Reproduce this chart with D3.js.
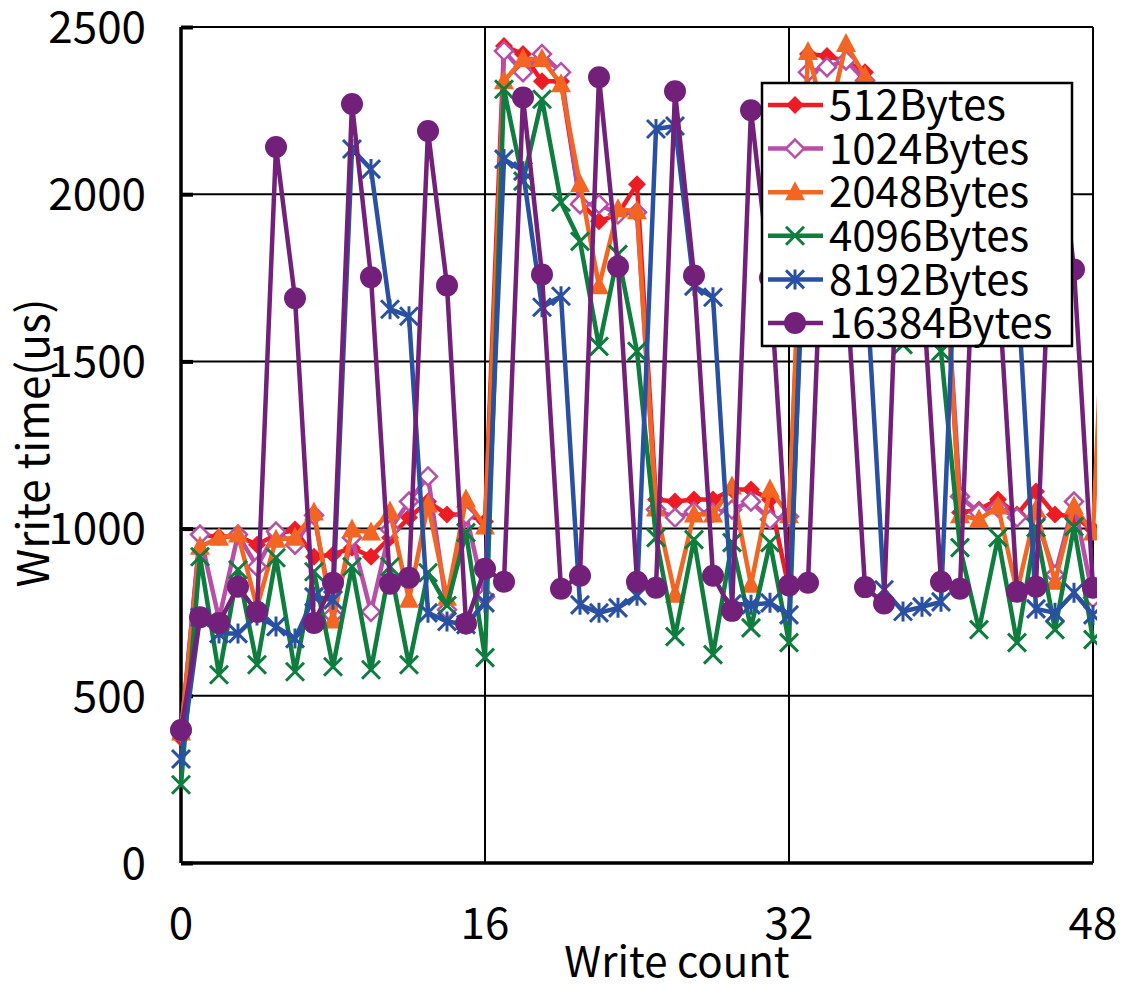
<!doctype html>
<html>
<head>
<meta charset="utf-8">
<script src="https://d3js.org/d3.v7.min.js"></script>
<style>
  body { margin: 0; background: #fff; }
  text { font-family: "Noto Sans CJK JP", "Noto Sans", sans-serif; fill: #000; }
</style>
</head>
<body>
<div id="chart"></div>
<script>
// data (write count 0..48, orange has one point past the edge)
var xTicks = [0, 16, 32, 48];
var yTicks = [0, 500, 1000, 1500, 2000, 2500];
var seriesNames = ["512Bytes", "1024Bytes", "2048Bytes", "4096Bytes", "8192Bytes", "16384Bytes"];

var bytes512 = [374, 982, 975, 978, 952, 982, 997, 916, 922, 943, 916, 973, 1033, 1081, 1042, 1042, 1021,
  2443, 2419, 2338, 2338, 1976, 1919, 1940, 2030, 1087, 1081, 1087, 1087, 1117, 1117, 1087, 820,
  2419, 2413, 2398, 2365, 1980, 1920, 1950, 2000, 1048, 1057, 1087, 1042, 1111, 1042, 1036, 997];
var bytes1024 = [390, 982, 730, 982, 886, 991, 952, 1040, 742, 973, 751, 997, 1081, 1156, 757, 1042, 796,
  2428, 2365, 2419, 2365, 1970, 1970, 1940, 1946, 1057, 1033, 1051, 1048, 1057, 1081, 1027, 1036,
  2365, 2380, 2400, 2340, 1970, 1960, 1950, 1990, 1096, 1048, 1063, 1033, 1033, 862, 1081, 793];
var bytes2048 = [390, 946, 973, 982, 765, 967, 973, 1048, 725, 997, 988, 1051, 787, 1072, 793, 1087, 1006,
  2338, 2404, 2404, 2329, 2030, 1725, 1955, 1949, 1060, 802, 1042, 1042, 1126, 832, 1117, 1040,
  2425, 2200, 2449, 2353, 2030, 1750, 1950, 1990, 1040, 1027, 1066, 811, 1057, 841, 1066, 988, 2250];
var bytes4096 = [234, 916, 563, 877, 593, 913, 572, 871, 587, 886, 578, 886, 593, 868, 770, 988, 614,
  2314, 2039, 2284, 1976, 1859, 1545, 1820, 1530, 973, 677, 967, 623, 958, 703, 958, 659,
  2300, 2040, 2280, 1970, 1860, 1550, 1820, 1530, 943, 698, 973, 659, 1003, 698, 1006, 668];
var bytes8192 = [311, 735, 686, 686, 740, 707, 671, 796, 787, 2135, 2075, 1656, 1635, 748, 722, 713, 778,
  2105, 2069, 1662, 1695, 772, 748, 763, 799, 2195, 2204, 1725, 1692, 775, 772, 778, 742,
  2150, 2100, 1700, 1800, 817, 752, 766, 781, 2150, 2100, 1700, 1750, 760, 748, 808, 742];
var bytes16384 = [398, 735, 718, 826, 751, 2141, 1689, 718, 838, 2270, 1752, 835, 853, 2189, 1727, 716, 880,
  841, 2289, 1760, 820, 859, 2350, 1784, 841, 823, 2308, 1757, 859, 754, 2251, 1750, 830,
  838, 2280, 1750, 825, 776, 2280, 1750, 841, 820, 2280, 1750, 811, 826, 2280, 1775, 823];

var colors = ["#ED1C24", "#B84EA8", "#F26522", "#0E7D3E", "#2A50A3", "#73207B"];
var markers = ["diamond", "odiamond", "triangle", "x", "star", "circle"];
var allSeries = [bytes512, bytes1024, bytes2048, bytes4096, bytes8192, bytes16384];

var W = 1129, H = 985;
var plotL = 181, plotR = 1093, plotT = 27, plotB = 863;

var svg = d3.select("#chart").append("svg")
  .attr("width", W).attr("height", H);

var x = d3.scaleLinear().domain([0, 48]).range([plotL, plotR]);
var y = d3.scaleLinear().domain([0, 2500]).range([plotB, plotT]);

// grid
svg.append("g")
  .selectAll("line").data(yTicks).enter().append("line")
  .attr("x1", plotL).attr("x2", plotR)
  .attr("y1", function (d) { return y(d); }).attr("y2", function (d) { return y(d); })
  .attr("stroke", "#000").attr("stroke-width", 2);
svg.append("g")
  .selectAll("line").data(xTicks).enter().append("line")
  .attr("x1", function (d) { return x(d); }).attr("x2", function (d) { return x(d); })
  .attr("y1", plotT).attr("y2", plotB)
  .attr("stroke", "#000").attr("stroke-width", 2);

// axes
var yAxis = svg.append("g")
  .attr("transform", "translate(" + plotL + ",0)")
  .call(d3.axisRight(y).tickValues(yTicks).tickSize(12).tickFormat(""));
yAxis.select(".domain").remove();
yAxis.selectAll("line").attr("stroke-width", 4);
svg.append("line").attr("x1", plotL).attr("x2", plotL).attr("y1", plotT).attr("y2", plotB)
  .attr("stroke", "#000").attr("stroke-width", 3.5);
svg.append("line").attr("x1", plotL).attr("x2", plotR).attr("y1", plotB).attr("y2", plotB)
  .attr("stroke", "#000").attr("stroke-width", 3.5);

svg.append("g").selectAll("text").data(yTicks).enter().append("text")
  .attr("x", 146).attr("y", function (d) { return y(d); })
  .attr("dy", "0.36em").attr("text-anchor", "end")
  .style("font-size", "44px")
  .text(function (d) { return d; });
svg.append("g").selectAll("text").data(xTicks).enter().append("text")
  .attr("x", function (d) { return x(d); }).attr("y", 939)
  .attr("text-anchor", "middle")
  .style("font-size", "44px")
  .text(function (d) { return d; });

svg.append("text").attr("x", 677).attr("y", 977).attr("text-anchor", "middle")
  .style("font-size", "42px").text("Write count");
svg.append("text").attr("transform", "translate(49,443) rotate(-90)").attr("text-anchor", "middle")
  .style("font-size", "44px").text("Write time(us)");

// marker shapes
function markerPath(type) {
  if (type === "diamond" || type === "odiamond") return "M0,-9L9,0L0,9L-9,0Z";
  if (type === "triangle") return "M0,-11L10,8L-10,8Z";
  if (type === "x") return "M-9,-9L9,9M-9,9L9,-9";
  if (type === "star") return "M-9,-9L9,9M-9,9L9,-9M0,-10L0,10";
  return null;
}
function drawMarker(g, type, color, px, py) {
  if (type === "circle") {
    g.append("circle").attr("cx", px).attr("cy", py).attr("r", 11).attr("fill", color);
    return;
  }
  var p = g.append("path").attr("d", markerPath(type))
    .attr("transform", "translate(" + px + "," + py + ")");
  if (type === "diamond" || type === "triangle") p.attr("fill", color);
  else if (type === "odiamond") p.attr("fill", "#fff").attr("stroke", color).attr("stroke-width", 2.5);
  else p.attr("fill", "none").attr("stroke", color).attr("stroke-width", 3);
}

svg.append("clipPath").attr("id", "plotclip").append("rect")
  .attr("x", plotL - 20).attr("y", 0).attr("width", plotR - plotL + 24).attr("height", H);

var line = d3.line()
  .x(function (d, i) { return x(i); })
  .y(function (d) { return y(d); });

allSeries.forEach(function (vals, k) {
  var g = svg.append("g").attr("clip-path", "url(#plotclip)");
  g.append("path").datum(vals)
    .attr("d", line)
    .attr("fill", "none")
    .attr("stroke", colors[k])
    .attr("stroke-width", 4.5)
    .attr("stroke-linejoin", "round");
  vals.forEach(function (v, i) {
    if (i <= 48) drawMarker(g, markers[k], colors[k], x(i), y(v));
  });
});

// legend
var lg = svg.append("g");
lg.append("rect").attr("x", 762).attr("y", 83).attr("width", 310).attr("height", 263)
  .attr("fill", "#fff").attr("stroke", "#000").attr("stroke-width", 2.5);
seriesNames.forEach(function (name, k) {
  var cy = 105 + k * 43.6;
  lg.append("line").attr("x1", 768).attr("x2", 823).attr("y1", cy).attr("y2", cy)
    .attr("stroke", colors[k]).attr("stroke-width", 4.5);
  drawMarker(lg, markers[k], colors[k], 795, cy);
  lg.append("text").attr("x", 829).attr("y", cy).attr("dy", "0.36em")
    .style("font-size", "42px").text(name);
});
</script>
</body>
</html>
